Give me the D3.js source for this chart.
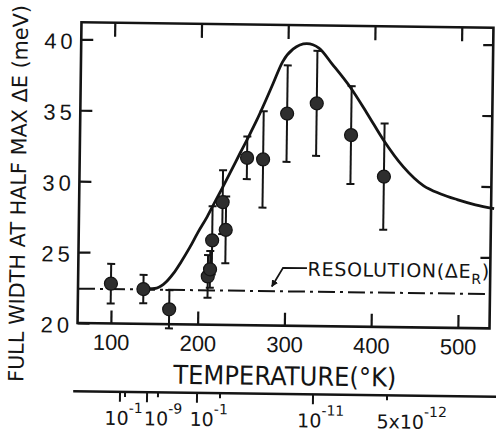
<!DOCTYPE html>
<html>
<head>
<meta charset="utf-8">
<script src="https://cdn.jsdelivr.net/npm/d3@7"></script>
<style>
  body { margin: 0; background: #fff; }
  svg { display: block; font-family: "DejaVu Sans", sans-serif; }
</style>
</head>
<body>
<svg id="chart" width="496" height="436"></svg>
<script>
// ticks
const tempTicks = [100, 200, 300, 400, 500];
const widthTicks = [20, 25, 30, 35, 40];

// measured points: temperature (K), FWHM (meV), error half-length
const pointT   = [99.5, 137, 167, 211, 213.5, 215.5, 227, 231, 254.5, 273, 300, 334, 374, 412.5];
const pointDE  = [22.8, 22.45, 21.05, 23.4, 23.9, 25.95, 28.65, 26.7, 31.8, 31.7, 34.95, 35.7, 33.5, 30.6];
const pointErr = [1.4, 1.0, 1.35, 1.5, 1.3, 2.4, 2.25, 2.35, 1.5, 3.4, 3.4, 3.7, 3.45, 3.75];

// theory curve
const curveT  = [135, 150, 160, 171.4, 180, 190, 199, 209.5, 218, 227.1, 237, 246.6, 256, 265.1, 274, 283.5, 294, 305.8, 321.7, 335.7, 351, 372.6, 392, 411.4, 434.8, 458.1, 478.3, 497.3, 518.4, 540];
const curveDE = [22.45, 22.5, 22.8, 23.58, 24.4, 25.45, 26.5, 27.62, 28.65, 29.73, 30.95, 32.15, 33.3, 34.46, 35.7, 37.08, 38.6, 39.5, 39.9, 39.6, 38.5, 36.85, 35.06, 33.18, 31.3, 30.0, 29.43, 29.05, 28.7, 28.45];

// resolution line and its label
const resolutionDE = 22.42;
const leaderT  = [325.2, 297.6, 285];
const leaderDE = [24.08, 24.08, 22.75];
const resLabelT = 326, resLabelDE = 23.54;

// second scale under the temperature axis
const secMajorT = [111.6, 142.8, 200.4, 334.1];
const secMinorT = [117.4, 155.4, 226.9, 419.4];
const secLabelT = [116, 161.5, 214.2, 343.3, 448.2];
const secLabelBase = ["10", "10", "10", "10", "5x10"];
const secLabelExp  = ["-1", "-9", "-1", "-11", "-12"];

const ink = "#141414";
const svg = d3.select("#chart");
const plotL = 79.5, plotR = 491.5, plotT = 25, plotB = 325.7;

const x = d3.scaleLinear().domain([61.6, 536.5]).range([plotL, plotR]);
const y = d3.scaleLinear().domain([20, 41.2]).range([plotB, plotT]);

// the scan is turned slightly clockwise
const g = svg.append("g").attr("transform", "rotate(0.75,287,175)");

// frame
g.append("rect")
  .attr("x", plotL).attr("y", plotT)
  .attr("width", plotR - plotL).attr("height", plotB - plotT)
  .attr("fill", "none").attr("stroke", ink).attr("stroke-width", 2.6);

const styleAxis = sel => {
  sel.select(".domain").remove();
  sel.selectAll(".tick line").attr("stroke", ink).attr("stroke-width", 2.2);
  sel.selectAll(".tick text").attr("fill", ink);
};

g.append("g")
  .attr("transform", `translate(${plotL},0)`)
  .call(d3.axisLeft(y).tickValues(widthTicks).tickSizeInner(-12).tickSizeOuter(0))
  .call(styleAxis)
  .call(a => a.selectAll(".tick text")
    .attr("text-anchor", "start")
    .attr("x", -37).attr("dy", "0.42em")
    .attr("font-size", 22).attr("letter-spacing", 4));

g.append("g")
  .attr("transform", `translate(${plotR},0)`)
  .call(d3.axisRight(y).tickValues([25, 30, 35, 40]).tickSizeInner(-10).tickSizeOuter(0).tickFormat(""))
  .call(styleAxis);

g.append("g")
  .attr("transform", `translate(0,${plotB})`)
  .call(d3.axisBottom(x).tickValues(tempTicks).tickSizeInner(-13).tickSizeOuter(0))
  .call(styleAxis)
  .call(a => a.selectAll(".tick text")
    .attr("y", 26.5).attr("dy", 0)
    .attr("font-size", 22));

g.append("g")
  .attr("transform", `translate(0,${plotT})`)
  .call(d3.axisTop(x).tickValues(tempTicks).tickSizeInner(-14).tickSizeOuter(0).tickFormat(""))
  .call(styleAxis);

// resolution line
g.append("line")
  .attr("x1", plotL).attr("x2", plotR)
  .attr("y1", y(resolutionDE)).attr("y2", y(resolutionDE))
  .attr("stroke", ink).attr("stroke-width", 2)
  .attr("stroke-dasharray", "17,5,3,5");

// theory curve
const curveData = curveT.map((t, i) => [t, curveDE[i]]);
g.append("path")
  .datum(curveData)
  .attr("fill", "none").attr("stroke", ink).attr("stroke-width", 2.8)
  .attr("d", d3.line().x(d => x(d[0])).y(d => y(d[1])).curve(d3.curveMonotoneX));

// error bars and points
const pts = pointT.map((t, i) => ({ t, v: pointDE[i], e: pointErr[i] }));
const bars = g.append("g").selectAll("g").data(pts).join("g")
  .attr("stroke", ink).attr("stroke-width", 2);
bars.append("line")
  .attr("x1", d => x(d.t)).attr("x2", d => x(d.t))
  .attr("y1", d => y(d.v + d.e)).attr("y2", d => y(d.v - d.e));
bars.append("line")
  .attr("x1", d => x(d.t) - 4).attr("x2", d => x(d.t) + 4)
  .attr("y1", d => y(d.v + d.e)).attr("y2", d => y(d.v + d.e));
bars.append("line")
  .attr("x1", d => x(d.t) - 4).attr("x2", d => x(d.t) + 4)
  .attr("y1", d => y(d.v - d.e)).attr("y2", d => y(d.v - d.e));

g.append("g").selectAll("circle").data(pts).join("circle")
  .attr("cx", d => x(d.t)).attr("cy", d => y(d.v))
  .attr("r", 6.5)
  .attr("fill", "#2e2e2e").attr("stroke", ink).attr("stroke-width", 1.2);

// resolution annotation
svg.append("defs").append("marker")
  .attr("id", "arrow").attr("viewBox", "0 0 10 10")
  .attr("refX", 9).attr("refY", 5)
  .attr("markerWidth", 7).attr("markerHeight", 7)
  .attr("markerUnits", "userSpaceOnUse")
  .attr("orient", "auto")
  .append("path").attr("d", "M0,0L10,5L0,10z").attr("fill", ink);

g.append("path")
  .datum(leaderT.map((t, i) => [t, leaderDE[i]]))
  .attr("fill", "none").attr("stroke", ink).attr("stroke-width", 1.8)
  .attr("marker-end", "url(#arrow)")
  .attr("d", d3.line().x(d => x(d[0])).y(d => y(d[1])));

const res = g.append("text")
  .attr("x", x(resLabelT)).attr("y", y(resLabelDE))
  .attr("font-size", 19).attr("letter-spacing", 0.7).attr("fill", ink);
res.append("tspan").text("RESOLUTION(ΔE");
res.append("tspan").attr("font-size", 14).attr("dy", 6).text("R");
res.append("tspan").attr("dy", -6).text(")");

// axis titles
g.append("text")
  .attr("x", (plotL + plotR) / 2 + 2).attr("y", plotB + 59.5)
  .attr("text-anchor", "middle")
  .attr("font-size", 26).attr("fill", ink)
  .attr("textLength", 223).attr("lengthAdjust", "spacingAndGlyphs")
  .text("TEMPERATURE(°K)");

g.append("text")
  .attr("transform", "translate(26,197) rotate(-90)")
  .attr("text-anchor", "middle")
  .attr("font-size", 21).attr("fill", ink)
  .attr("textLength", 377).attr("lengthAdjust", "spacingAndGlyphs")
  .text("FULL WIDTH AT HALF MAX  ΔE (meV)");

// second scale
const secY = 394;
g.append("line")
  .attr("x1", x(57.6)).attr("x2", x(548))
  .attr("y1", secY).attr("y2", secY)
  .attr("stroke", ink).attr("stroke-width", 2.4);
g.append("g").selectAll("line").data(secMajorT).join("line")
  .attr("x1", d => x(d)).attr("x2", d => x(d))
  .attr("y1", secY).attr("y2", secY + 10)
  .attr("stroke", ink).attr("stroke-width", 2);
g.append("g").selectAll("line").data(secMinorT).join("line")
  .attr("x1", d => x(d)).attr("x2", d => x(d))
  .attr("y1", secY).attr("y2", secY + 5)
  .attr("stroke", ink).attr("stroke-width", 2);

const secLab = g.append("g").selectAll("text").data(secLabelT).join("text")
  .attr("x", d => x(d)).attr("y", secY + 33)
  .attr("text-anchor", "middle")
  .attr("font-size", 19).attr("fill", ink);
secLab.append("tspan").text((d, i) => secLabelBase[i]);
secLab.append("tspan").attr("font-size", 14).attr("dy", -12).text((d, i) => secLabelExp[i]);
</script>
</body>
</html>
